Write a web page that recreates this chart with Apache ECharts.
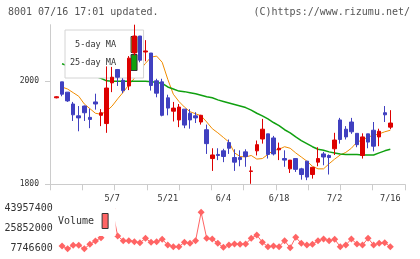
<!DOCTYPE html>
<html>
<head>
<meta charset="utf-8">
<script src="https://cdn.jsdelivr.net/npm/echarts@6/dist/echarts.min.js"></script>
<style>
  html, body { margin: 0; padding: 0; background: #fff; }
  #chart { width: 420px; height: 259px; }
</style>
</head>
<body>
<div id="chart"></div>
<script>
// trading days shown on the chart (labels every 10th day)
const dates = [
  '4/18', '4/19', '4/22', '4/23', '4/24', '4/25', '4/26', '4/30', '5/1', '5/2',
  '5/7', '5/8', '5/9', '5/10', '5/13', '5/14', '5/15', '5/16', '5/17', '5/20',
  '5/21', '5/22', '5/23', '5/24', '5/27', '5/28', '5/29', '5/30', '5/31', '6/3',
  '6/4', '6/5', '6/6', '6/7', '6/10', '6/11', '6/12', '6/13', '6/14', '6/17',
  '6/18', '6/19', '6/20', '6/21', '6/24', '6/25', '6/26', '6/27', '6/28', '7/1',
  '7/2', '7/3', '7/4', '7/5', '7/8', '7/9', '7/10', '7/11', '7/12', '7/15',
  '7/16'
];

// [open, close, low, high]
const ohlc = [
  [1968, 1970, 1967, 1971], [1999, 1975, 1971, 1999], [1979, 1962, 1960, 1979],
  [1956, 1935, 1923, 1960], [1933, 1929, 1903, 1952], [1952, 1939, 1923, 1953],
  [1930, 1926, 1909, 1947], [1960, 1956, 1945, 1976], [1934, 1939, 1913, 1946],
  [1918, 1987, 1900, 2029], [1997, 2008, 1979, 2028], [2023, 2008, 1991, 2024],
  [2002, 1982, 1977, 2006], [1991, 2045, 1983, 2049], [2055, 2088, 2050, 2110],
  [2088, 2041, 2037, 2088], [2057, 2059, 2039, 2080], [2055, 1992, 1982, 2055],
  [2001, 1977, 1969, 2005], [1999, 1934, 1932, 2005], [1968, 1948, 1934, 1974],
  [1942, 1948, 1922, 1960], [1925, 1950, 1911, 1956], [1946, 1915, 1909, 1946],
  [1938, 1925, 1908, 1946], [1933, 1929, 1919, 1940], [1921, 1934, 1916, 1935],
  [1906, 1879, 1859, 1916], [1850, 1857, 1826, 1870], [1858, 1856, 1847, 1870],
  [1865, 1854, 1843, 1869], [1881, 1870, 1859, 1887], [1852, 1843, 1826, 1868],
  [1852, 1848, 1835, 1866], [1863, 1854, 1834, 1868], [1825, 1826, 1801, 1835],
  [1865, 1877, 1856, 1885], [1888, 1907, 1879, 1927], [1898, 1858, 1850, 1898],
  [1890, 1859, 1856, 1894], [1867, 1870, 1847, 1881], [1850, 1847, 1834, 1866],
  [1830, 1847, 1822, 1847], [1850, 1829, 1824, 1851], [1830, 1819, 1809, 1832],
  [1845, 1814, 1808, 1845], [1819, 1833, 1811, 1833], [1843, 1850, 1835, 1872],
  [1859, 1853, 1837, 1863], [1856, 1852, 1819, 1858], [1869, 1886, 1857, 1900],
  [1925, 1887, 1879, 1929], [1907, 1892, 1887, 1913], [1921, 1902, 1898, 1929],
  [1899, 1877, 1872, 1899], [1856, 1892, 1850, 1899], [1898, 1882, 1870, 1898],
  [1905, 1874, 1864, 1921], [1892, 1903, 1874, 1908], [1939, 1935, 1921, 1952],
  [1911, 1919, 1907, 1944]
];

const ma5 = [
  '-', 1989, 1985, 1978, 1971, 1956, 1947, 1938, 1936, 1942,
  1952, 1966, 1979, 1993, 2006, 2022, 2035, 2047, 2049, 2037,
  2004, 1975, 1961, 1950, 1941, 1937, 1933, 1921, 1908, 1900,
  1891, 1882, 1861, 1854, 1853, 1856, 1849, 1850, 1858, 1866,
  1868, 1873, 1870, 1861, 1853, 1845, 1835, 1830, 1830, 1840,
  1849, 1857, 1862, 1870, 1882, 1886, 1892, 1895, 1898, 1902,
  1905
];

const ma25 = [
  '-', 2034, 2030, 2026, 2022, 2018, 2014, 2010, 2006, 2001,
  2000, 2000, 2000, 2000, 2000, 2000, 2000, 1999, 1998, 1996,
  1989, 1985, 1981, 1980, 1978, 1976, 1973, 1970, 1968, 1964,
  1961, 1958, 1955, 1952, 1949, 1944, 1938, 1933, 1927, 1920,
  1914, 1906, 1900, 1892, 1885, 1879, 1873, 1868, 1866, 1863,
  1861, 1859, 1858, 1858, 1858, 1857, 1857, 1857, 1861, 1865,
  1868
];

const volume = [
  '-', 10280000, 7746600, 10920000, 10920000, 7800000, 11820000, 14810000, 17800000, 38000000,
  43957400, 19330000, 15080000, 15080000, 14170000, 13270000, 17250000, 13630000, 14170000, 16350000,
  11190000, 9650000, 9650000, 13630000, 12730000, 15080000, 40790000, 17250000, 16620000, 12730000,
  9100000, 11190000, 12090000, 11820000, 12090000, 17250000, 20240000, 13630000, 9650000, 10280000,
  9650000, 15080000, 8740000, 18160000, 12730000, 11190000, 11820000, 15080000, 16620000, 15080000,
  16350000, 9650000, 11190000, 16620000, 12090000, 11190000, 17250000, 11190000, 12730000, 13270000,
  9650000
];

const priceMin = 1800;
const priceMax = 2110;
const priceStep = 200;
const volMin = 7746600;
const volMax = 43957400;
const frameTicks = 11;

const mono = 'DejaVu Sans Mono';
const upColor = '#dd0000';
const downColor = '#4040c0';
const ma5Color = '#f08c00';
const ma25Color = '#10a010';
const volColor = '#ff6464';
const axisColor = '#cccccc';

const chart = echarts.init(document.getElementById('chart'));

const option = {
  animation: false,
  title: [
    {
      text: '8001 07/16 17:01 updated.', left: 8, top: 7, padding: 0,
      textStyle: { fontFamily: mono, fontSize: 10, fontWeight: 'normal', color: '#555' }
    },
    {
      text: '(C)https://www.rizumu.net/', right: 10, top: 7, padding: 0,
      textStyle: { fontFamily: mono, fontSize: 10, fontWeight: 'normal', color: '#555' }
    }
  ],
  legend: [
    {
      data: ['5-day MA', '25-day MA'],
      orient: 'vertical', left: 65, top: 30,
      padding: [6, 6, 7, 5], itemGap: 1,
      itemWidth: 6, itemHeight: 16, align: 'right', icon: 'rect',
      selectedMode: false,
      backgroundColor: '#fff', borderColor: '#d4d4d4', borderWidth: 1,
      itemStyle: { borderColor: '#333', borderWidth: 1 },
      textStyle: { fontFamily: mono, fontSize: 8.5, color: '#333', width: 46, align: 'right', padding: [0, 10, 0, 0] }
    },
    {
      data: ['Volume'],
      left: 53, top: 205,
      padding: [8, 7, 7, 5],
      itemWidth: 6, itemHeight: 15, align: 'right', icon: 'rect',
      selectedMode: false,
      backgroundColor: '#fff',
      itemStyle: { borderColor: '#333', borderWidth: 1 },
      textStyle: { fontFamily: mono, fontSize: 10, color: '#333', padding: [0, 3, 0, 0] }
    }
  ],
  grid: [
    { left: 50, right: 15, top: 24.7, bottom: 74.7 },
    { left: 53.7, right: 26.9, top: 24.7, bottom: 74.7 },
    { left: 53.7, right: 26.9, top: 208.8, bottom: 10.2 }
  ],
  xAxis: [
    {
      type: 'value', gridIndex: 0, min: 0, max: frameTicks, interval: 1,
      axisLine: { lineStyle: { color: axisColor } },
      axisTick: { show: true, length: 6, lineStyle: { color: axisColor } },
      axisLabel: { show: false },
      splitLine: { show: false }
    },
    {
      type: 'category', gridIndex: 1, data: dates, boundaryGap: true,
      axisLine: { show: false },
      axisTick: { show: false },
      axisLabel: {
        interval: (i) => i > 0 && i % 10 === 0,
        margin: 10, fontFamily: mono, fontSize: 8.5, color: '#333'
      }
    },
    { type: 'category', gridIndex: 2, data: dates, boundaryGap: true, show: false }
  ],
  yAxis: [
    {
      type: 'value', gridIndex: 0, min: priceMin, max: priceMax, interval: priceStep,
      axisLine: { show: true, lineStyle: { color: axisColor } },
      axisTick: { show: true, length: 5, lineStyle: { color: axisColor } },
      axisLabel: {
        margin: 11, fontFamily: mono, fontSize: 8, color: '#333', showMaxLabel: false,
        formatter: (v) => String(v)
      },
      splitLine: { show: false }
    },
    { type: 'value', gridIndex: 1, min: priceMin, max: priceMax, show: false, splitLine: { show: false } },
    {
      type: 'value', gridIndex: 2, min: volMin, max: volMax, interval: (volMax - volMin) / 2,
      axisLine: { show: false },
      axisTick: { show: false },
      splitLine: { show: false },
      axisLabel: {
        margin: 1, fontFamily: mono, fontSize: 10, color: '#333',
        formatter: (v) => String(Math.round(v))
      }
    }
  ],
  series: [
    {
      name: '5-day MA', type: 'line', xAxisIndex: 1, yAxisIndex: 1,
      data: ma5, symbol: 'none', z: 2,
      lineStyle: { color: ma5Color, width: 1 },
      itemStyle: { color: ma5Color }
    },
    {
      name: '25-day MA', type: 'line', xAxisIndex: 1, yAxisIndex: 1,
      data: ma25, symbol: 'none', z: 2,
      lineStyle: { color: ma25Color, width: 1.5 },
      itemStyle: { color: ma25Color }
    },
    {
      name: 'price', type: 'candlestick', xAxisIndex: 1, yAxisIndex: 1,
      data: ohlc, barWidth: 4, z: 5,
      itemStyle: {
        color: upColor, color0: downColor,
        borderColor: upColor, borderColor0: downColor, borderWidth: 1
      }
    },
    {
      name: 'Volume', type: 'line', xAxisIndex: 2, yAxisIndex: 2,
      data: volume, symbol: 'diamond', symbolSize: 7, showAllSymbol: true, z: 2,
      lineStyle: { color: volColor, width: 1 },
      itemStyle: { color: volColor }
    }
  ]
};

chart.setOption(option);
</script>
</body>
</html>
